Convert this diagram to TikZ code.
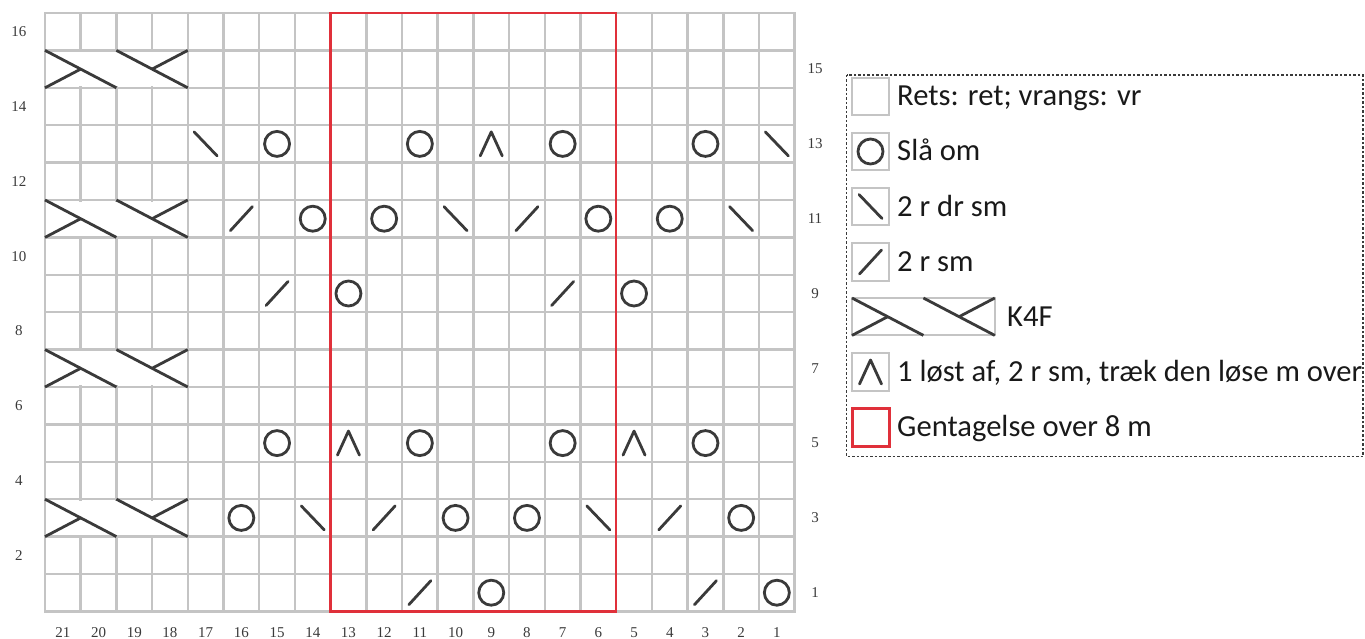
\documentclass[tikz,border=0pt]{standalone}
\usepackage{fontspec}
\setmainfont{Carlito}
\newfontfamily\tal{Liberation Serif}
\usetikzlibrary{calc}
\definecolor{gitterfarve}{HTML}{C4C4C4}
\definecolor{strik}{HTML}{3A3A3A}
\definecolor{gentagrod}{HTML}{E0303A}
\tikzset{
  gitter/.style={draw=gitterfarve,line width=2.5pt,line cap=rect},
  symb/.style={draw=strik,line width=2.8pt,line cap=round},
  gentag/.style={draw=gentagrod,line width=2.5pt},
  feltboks/.style={draw=gitterfarve,line width=2pt},
  nr/.style={font=\tal\fontsize{15}{17}\selectfont,text=strik,inner sep=0pt},
  tekst/.style={font=\fontsize{30.6}{36}\selectfont,text=black!90,inner sep=0pt,anchor=base west},
  omslag/.pic={\draw[symb] (0,0) circle (12.5pt);},
  drsm/.pic={\draw[symb] (-11.5,-12) -- (11.5,12);},
  rsm/.pic={\draw[symb] (-11,12) -- (11,-12);},
  lost/.pic={\draw[symb,line join=round] (-11,12) -- (0,-12) -- (11,12);},
  kabel/.pic={
    \draw[symb,line cap=butt] (0,0) -- (71.4,37.4);
    \draw[symb,line cap=butt] (0,37.4) -- (35.7,18.7);
    \draw[symb,line cap=butt] (71.4,0) -- (142.8,37.4);
    \draw[symb,line cap=butt] (107.1,18.7) -- (142.8,0);}
}

\begin{document}
\begin{tikzpicture}[x=1pt,y=-1pt]
\useasboundingbox (0,0) rectangle (1365,639);
% diagram: 21 masker x 16 pinde
\foreach \k in {0,...,16}
  \draw[gitter] (45,{13+\k*37.4}) -- (795,{13+\k*37.4});
\foreach \k in {0,...,21}
  \draw[gitter] ({45+\k*35.7},13) -- ({45+\k*35.7},611.4);
% snoninger over 4 m
\foreach \r in {15,11,7,3} {
  \fill[white] (46.6,{13+(16-\r)*37.4+1.6}) rectangle (186.2,{13+(17-\r)*37.4-1.6});
  \pic at (45,{13+(16-\r)*37.4}) {kabel};
}
% symboler
\foreach \c/\r [evaluate=\c as \x using {45+(21.5-\c)*35.7}, evaluate=\r as \y using {13+(16.5-\r)*37.4}] in
  {15/13,11/13,7/13,3/13,14/11,12/11,6/11,4/11,13/9,5/9,15/5,11/5,7/5,3/5,16/3,10/3,8/3,2/3,9/1,1/1}
  \pic at (\x,\y) {omslag};
\foreach \c/\r [evaluate=\c as \x using {45+(21.5-\c)*35.7}, evaluate=\r as \y using {13+(16.5-\r)*37.4}] in
  {17/13,1/13,10/11,2/11,14/3,6/3}
  \pic at (\x,\y) {drsm};
\foreach \c/\r [evaluate=\c as \x using {45+(21.5-\c)*35.7}, evaluate=\r as \y using {13+(16.5-\r)*37.4}] in
  {16/11,8/11,15/9,7/9,12/3,4/3,11/1,3/1}
  \pic at (\x,\y) {rsm};
\foreach \c/\r [evaluate=\c as \x using {45+(21.5-\c)*35.7}, evaluate=\r as \y using {13+(16.5-\r)*37.4}] in
  {9/13,13/5,5/5}
  \pic at (\x,\y) {lost};
% rapport
\draw[gentag] (330.6,13) rectangle (616.2,611.4);
% numre
\foreach \r in {16,14,...,2}
  \node[nr] (v\r) at (19,{13+(16.5-\r)*37.4}) {\r};
\foreach \r in {15,13,...,1}
  \node[nr] (h\r) at (815,{13+(16.5-\r)*37.4}) {\r};
\foreach \c in {21,20,...,1}
  \node[nr] (b\c) at ({45+(21.5-\c)*35.7},633) {\c};
% tegnforklaring
\draw[strik,line width=1.5pt,dash pattern=on 2.5pt off 2pt] (846.7,75) rectangle (1363,456.7);
\draw[feltboks] (852,78) rectangle (889,115);
\node[tekst] (t1) at (897,106) {Rets: ret; vrangs: vr};
\draw[feltboks] (852,133) rectangle (889,170); \pic at (870.5,151.5) {omslag};
\node[tekst] (t2) at (897,161) {Slå om};
\draw[feltboks] (852,188) rectangle (889,225); \pic at (870.5,206.5) {drsm};
\node[tekst] (t3) at (897,216) {2 r dr sm};
\draw[feltboks] (852,243) rectangle (889,281); \pic at (870.5,262) {rsm};
\node[tekst] (t4) at (897,271.5) {2 r sm};
\draw[feltboks] (852,298) rectangle (994.8,335.4); \pic at (852,298) {kabel};
\node[tekst] (t5) at (1007,326) {K4F};
\draw[feltboks] (852,353) rectangle (889,391); \pic at (870.5,372) {lost};
\node[tekst] (t6) at (897,381.5) {1 løst af, 2 r sm, træk den løse m over};
\draw[gentag,line width=3pt] (852,408) rectangle (889,446);
\node[tekst] (t7) at (897,436.5) {Gentagelse over 8 m};
\end{tikzpicture}
\end{document}
